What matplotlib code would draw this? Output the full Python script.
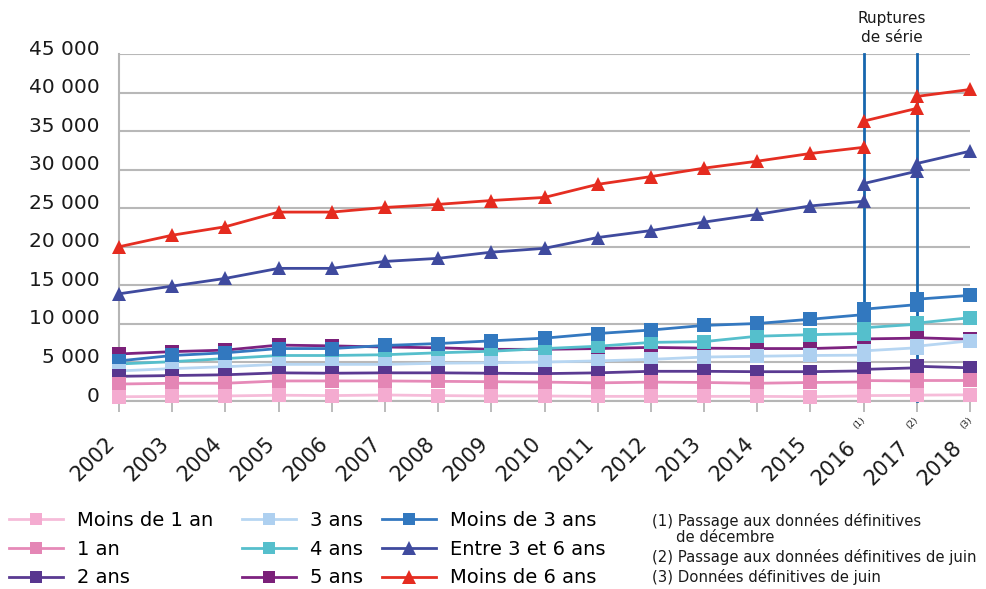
import matplotlib.pyplot as plt
from matplotlib.lines import Line2D
import matplotlib.transforms as mtransforms

plt.rcParams['font.family'] = ['DejaVu Sans']

# years before the first rupture, then the two short segments after each rupture
years_a = list(range(2002, 2017))
years_b = [2016, 2017]
years_c = [2017, 2018]

tick_years = list(range(2002, 2019))
tick_labels = [str(y) for y in range(2002, 2019)]
tick_notes = {2016: "(1)", 2017: "(2)", 2018: "(3)"}

moins1_a = [550, 600, 650, 750, 700, 780, 700, 650, 650, 600, 600, 600, 600, 560, 650]
moins1_b = [700, 730]
moins1_c = [760, 800]

an1_a = [2200, 2300, 2300, 2600, 2600, 2600, 2550, 2500, 2450, 2350, 2450, 2400, 2300, 2400, 2450]
an1_b = [2650, 2600]
an1_c = [2700, 2700]

ans2_a = [3200, 3300, 3400, 3650, 3600, 3650, 3650, 3600, 3550, 3650, 3850, 3850, 3800, 3800, 3900]
ans2_b = [4100, 4300]
ans2_c = [4500, 4300]

ans3_a = [3900, 4200, 4450, 4750, 4750, 4750, 4900, 4950, 5050, 5200, 5400, 5700, 5800, 5900, 5950]
ans3_b = [6500, 6900]
ans3_c = [7100, 7800]

ans4_a = [4800, 5100, 5500, 5900, 5900, 6000, 6250, 6450, 6800, 7100, 7600, 7700, 8400, 8600, 8750]
ans4_b = [9500, 9950]
ans4_c = [10100, 10800]

ans5_a = [6100, 6400, 6600, 7250, 7150, 7000, 6900, 6700, 6700, 6800, 6950, 6850, 6800, 6800, 7000]
ans5_b = [8050, 8150]
ans5_c = [8200, 8000]

moins3_a = [5200, 5900, 6250, 6800, 6800, 7200, 7450, 7800, 8150, 8750, 9200, 9800, 10050, 10600, 11200]
moins3_b = [11900, 12500]
moins3_c = [13200, 13700]

entre36_a = [13900, 14900, 15900, 17200, 17200, 18100, 18500, 19300, 19800, 21200, 22100, 23200, 24200, 25300, 25900]
entre36_b = [28200, 29800]
entre36_c = [30800, 32400]

moins6_a = [20000, 21500, 22600, 24500, 24500, 25100, 25500, 26000, 26400, 28100, 29100, 30200, 31100, 32100, 32900]
moins6_b = [36300, 37950]
moins6_c = [39500, 40400]

rupture_years = [2016, 2017]

# label, segments, line colour, marker colour, marker, zorder
series = [
    ("Moins de 1 an", (moins1_a, moins1_b, moins1_c), '#f6bcd9', '#f4abd0', 's', 9),
    ("1 an", (an1_a, an1_b, an1_c), '#e68ab8', '#e486b5', 's', 8),
    ("2 ans", (ans2_a, ans2_b, ans2_c), '#5a3a92', '#58368f', 's', 7),
    ("3 ans", (ans3_a, ans3_b, ans3_c), '#b7d6f2', '#aed0f0', 's', 6),
    ("4 ans", (ans4_a, ans4_b, ans4_c), '#56bfcc', '#55bfcc', 's', 4),
    ("5 ans", (ans5_a, ans5_b, ans5_c), '#7d2280', '#7b2079', 's', 3),
    ("Moins de 3 ans", (moins3_a, moins3_b, moins3_c), '#3478c0', '#3278bf', 's', 5),
    ("Entre 3 et 6 ans", (entre36_a, entre36_b, entre36_c), '#3f4a9e', '#3f4a9e', '^', 10),
    ("Moins de 6 ans", (moins6_a, moins6_b, moins6_c), '#e52e22', '#e52b1f', '^', 11),
]

fig = plt.figure(figsize=(9.86, 5.89), dpi=100)
ax = fig.add_axes([0.1207, 0.3192, 0.8631, 0.5891])
txt = '#1a1a1a'

ax.set_xlim(2002, 2018)
ax.set_ylim(0, 45000)
yt = list(range(0, 45001, 5000))
ax.set_yticks(yt)
ax.set_yticklabels([f"{v:,}".replace(",", " ") for v in yt], fontsize=14.5, color=txt)
ax.tick_params(axis='y', length=0, pad=14)
up = mtransforms.ScaledTranslation(0, 5 / 72, fig.dpi_scale_trans)
for lab in ax.get_yticklabels():
    lab.set_transform(lab.get_transform() + up)

ax.set_xticks(tick_years)
ax.set_xticklabels(tick_labels, fontsize=15, rotation=45, ha='right', va='top',
                   rotation_mode='anchor', color=txt)
ax.tick_params(axis='x', length=8, width=1.3, color='#b5b5b5', pad=4)
for yr, lab in zip(tick_years, ax.get_xticklabels()):
    dx, dy = (-10, -11) if yr not in tick_notes else (-13, -14)
    off = mtransforms.ScaledTranslation(dx / 72, dy / 72, fig.dpi_scale_trans)
    lab.set_transform(lab.get_transform() + off)
for yr, note in tick_notes.items():
    ax.annotate(note, xy=(yr, 0), xycoords='data', xytext=(-3, -16), textcoords='offset points',
                fontsize=6.5, rotation=45, ha='center', va='center', color=txt,
                annotation_clip=False)

ax.grid(axis='y', color='#b8b8b8', linewidth=1.5)
ax.set_axisbelow(True)
for s in ['top', 'right']:
    ax.spines[s].set_visible(False)
for s in ['left', 'bottom']:
    ax.spines[s].set_color('#b5b5b5')
    ax.spines[s].set_linewidth(1.5)

for yr in rupture_years:
    ax.plot([yr, yr], [0, 45000], color='#1666ae', linewidth=2, zorder=2, clip_on=False)

handles = []
for label, segs, lc, mc, mk, z in series:
    ms = 9.5 if mk == 's' else 10.5
    for xs, ys in zip((years_a, years_b, years_c), segs):
        ax.plot(xs, ys, color=lc, linewidth=2, zorder=z, clip_on=False)
        ax.plot(xs, ys, linestyle='none', marker=mk, markersize=ms, markerfacecolor=mc,
                markeredgecolor=mc, markeredgewidth=0, zorder=z + 0.5, clip_on=False)
    handles.append(Line2D([], [], color=lc, linewidth=2, marker=mk, markersize=ms - 0.5,
                          markerfacecolor=mc, markeredgewidth=0, label=label))

# three legend columns placed separately
col_x = [9, 242, 382]
for i, x in enumerate(col_x):
    fig.legend(handles=handles[3 * i:3 * i + 3], loc='upper left',
               bbox_to_anchor=(x / 986, 1 - 511 / 589), frameon=False, fontsize=14,
               handlelength=2.8, handletextpad=0.7, labelspacing=0.5,
               borderaxespad=0.0, borderpad=0.0)

fig.text(892 / 986, 1 - 28 / 589, "Ruptures\nde série", ha='center', va='center',
         fontsize=11, linespacing=1.25, color=txt)

notes = [
    (652, 521, "(1) Passage aux données définitives"),
    (676, 538, "de décembre"),
    (652, 557, "(2) Passage aux données définitives de juin"),
    (652, 577, "(3) Données définitives de juin"),
]
for x, y, t in notes:
    fig.text(x / 986, 1 - y / 589, t, ha='left', va='center', fontsize=10.7, color=txt)

fig.savefig('out.png', dpi=100)
